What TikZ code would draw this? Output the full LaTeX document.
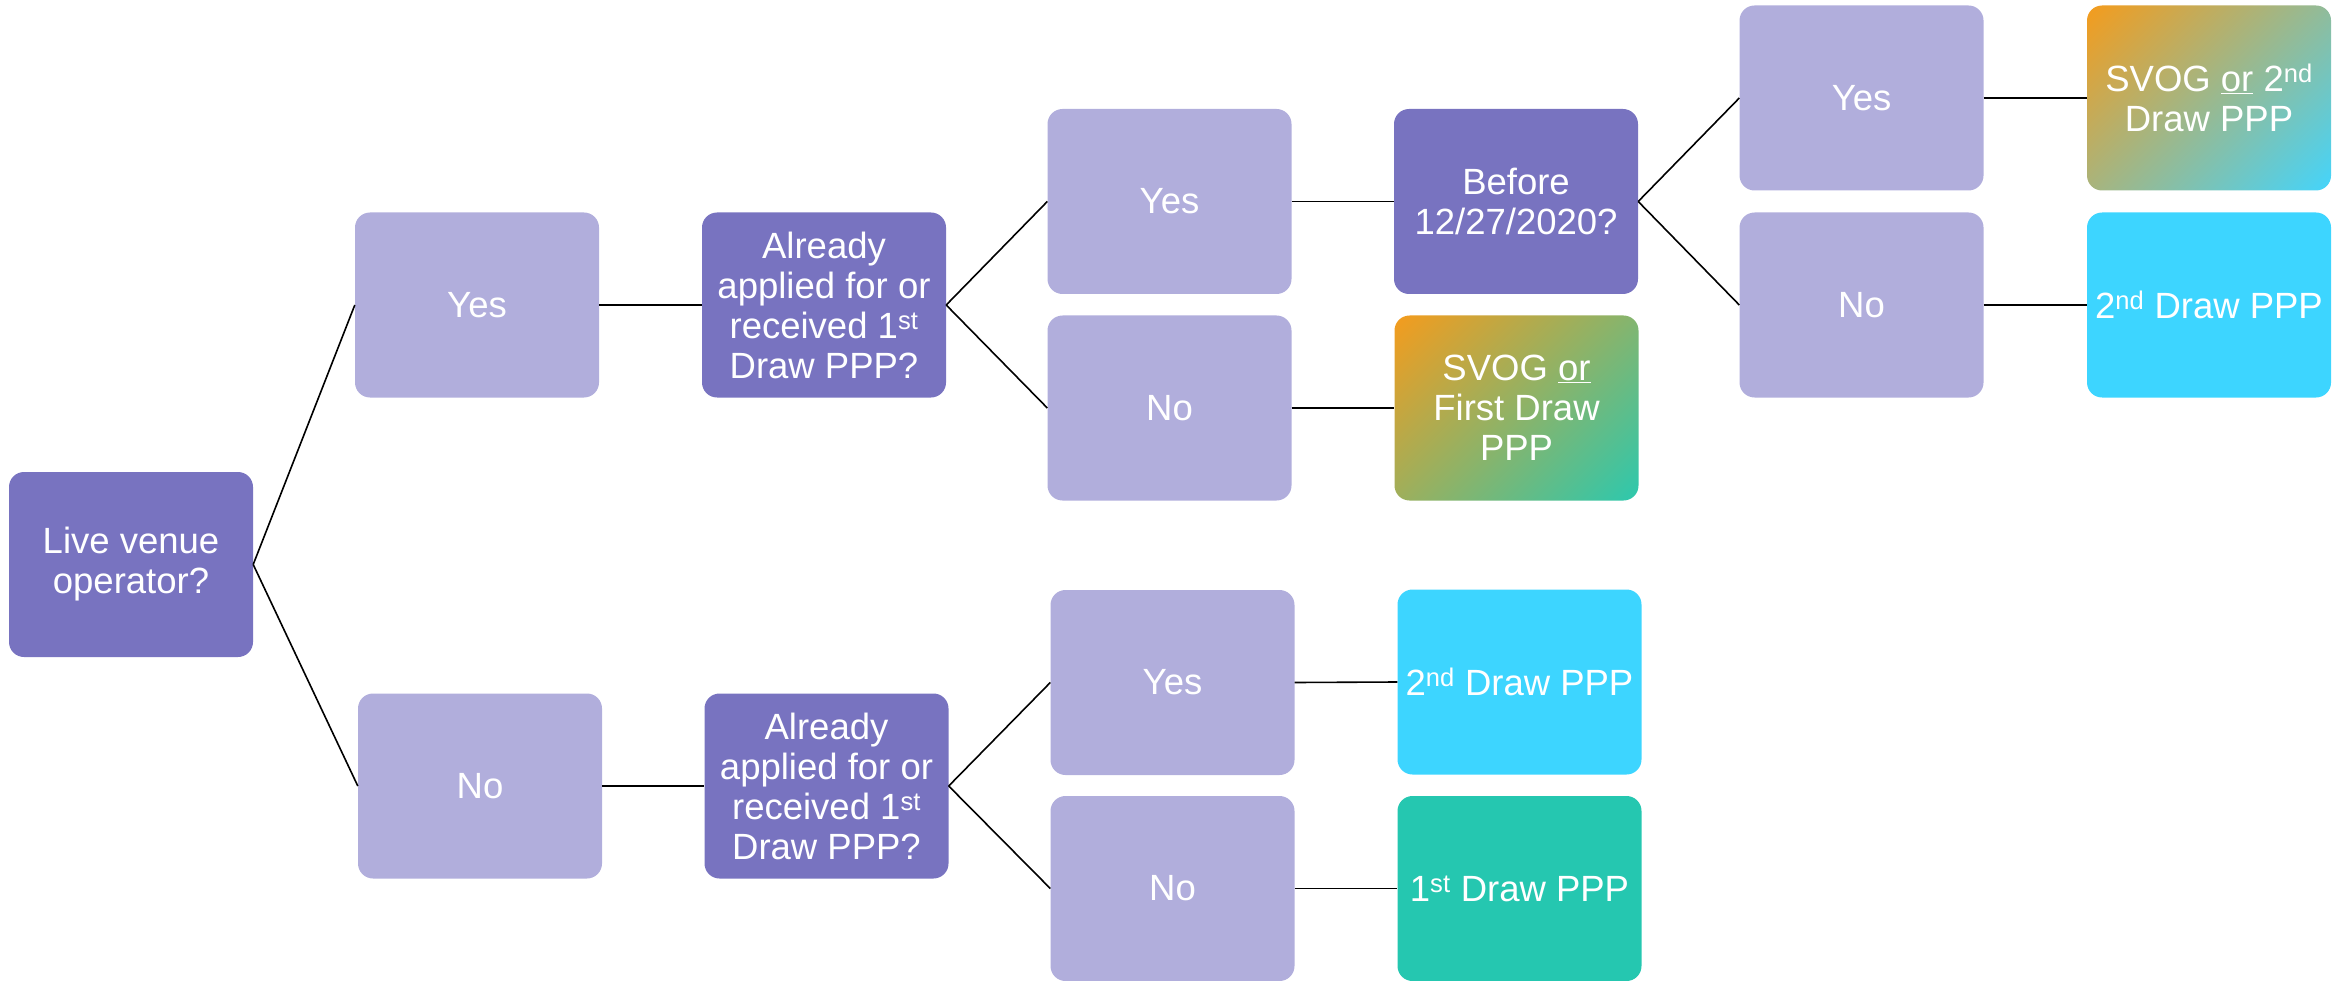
\documentclass[tikz,border=0pt]{standalone}
\usepackage{fontspec}
\setmainfont{Liberation Sans}
\definecolor{darkpurp}{HTML}{7873C0}
\definecolor{lightpurp}{HTML}{B1AEDC}
\definecolor{cyanbox}{HTML}{3DD5FF}
\definecolor{tealbox}{HTML}{25C7B0}
\definecolor{orangeg}{HTML}{F39C1E}
\definecolor{tealg}{HTML}{2EC8AD}
\definecolor{cyang}{HTML}{45D4FA}
\pgfdeclareverticalshading{gradA}{100bp}{color(0bp)=(tealg); color(15bp)=(tealg); color(85bp)=(orangeg); color(100bp)=(orangeg)}
\pgfdeclareverticalshading{gradB}{100bp}{color(0bp)=(cyang); color(15bp)=(cyang); color(85bp)=(orangeg); color(100bp)=(orangeg)}
\tikzset{
  box/.style={rectangle, rounded corners=15pt, minimum width=244pt, minimum height=185pt,
    inner sep=2pt, text=white, align=center, font=\fontsize{36.5}{40}\selectfont},
  qbox/.style={box, fill=darkpurp},
  abox/.style={box, fill=lightpurp},
  cbox/.style={box, fill=cyanbox},
  tbox/.style={box, fill=tealbox},
  gboxA/.style={box, shading=gradA, shading angle=45},
  gboxB/.style={box, shading=gradB, shading angle=45},
  conn/.style={draw=black, line width=1.6pt}
}
\begin{document}
\begin{tikzpicture}[x=1pt,y=-1pt]
\useasboundingbox (0,0) rectangle (2349,981);
\node[qbox] (live) at (131,564.5) {Live venue\\operator?};
\node[abox] (yes1) at (477,305) {Yes};
\node[abox] (no1) at (480,786) {No};
\node[qbox] (alr1) at (824,305) {Already\\applied for or\\received 1\textsuperscript{st}\\Draw PPP?};
\node[qbox] (alr2) at (826.5,786) {Already\\applied for or\\received 1\textsuperscript{st}\\Draw PPP?};
\node[abox] (yes3) at (1169.5,201.5) {Yes};
\node[abox] (no3) at (1169.5,408) {No};
\node[qbox] (before) at (1516,201.5) {Before\\12/27/2020?};
\node[gboxA] (svog1) at (1516.5,408) {SVOG \underline{or}\\First Draw\\PPP};
\node[abox] (yes3b) at (1172.5,682.5) {Yes};
\node[abox] (no3b) at (1172.5,888.5) {No};
\node[cbox] (ppp2b) at (1519.5,682) {2\textsuperscript{nd} Draw PPP};
\node[tbox] (ppp1b) at (1519.5,888.5) {1\textsuperscript{st} Draw PPP};
\node[abox] (yes5) at (1861.5,98) {Yes};
\node[abox] (no5) at (1861.5,305) {No};
\node[gboxB] (svog2) at (2209,98) {SVOG \underline{or} 2\textsuperscript{nd}\\Draw PPP};
\node[cbox] (ppp2) at (2209,305) {2\textsuperscript{nd} Draw PPP};
\draw[conn] (live.east) -- (yes1.west);
\draw[conn] (live.east) -- (no1.west);
\draw[conn] (yes1.east) -- (alr1.west);
\draw[conn] (no1.east) -- (alr2.west);
\draw[conn] (alr1.east) -- (yes3.west);
\draw[conn] (alr1.east) -- (no3.west);
\draw[conn] (yes3.east) -- (before.west);
\draw[conn] (no3.east) -- (svog1.west);
\draw[conn] (alr2.east) -- (yes3b.west);
\draw[conn] (alr2.east) -- (no3b.west);
\draw[conn] (yes3b.east) -- (ppp2b.west);
\draw[conn] (no3b.east) -- (ppp1b.west);
\draw[conn] (before.east) -- (yes5.west);
\draw[conn] (before.east) -- (no5.west);
\draw[conn] (yes5.east) -- (svog2.west);
\draw[conn] (no5.east) -- (ppp2.west);
\end{tikzpicture}
\end{document}
